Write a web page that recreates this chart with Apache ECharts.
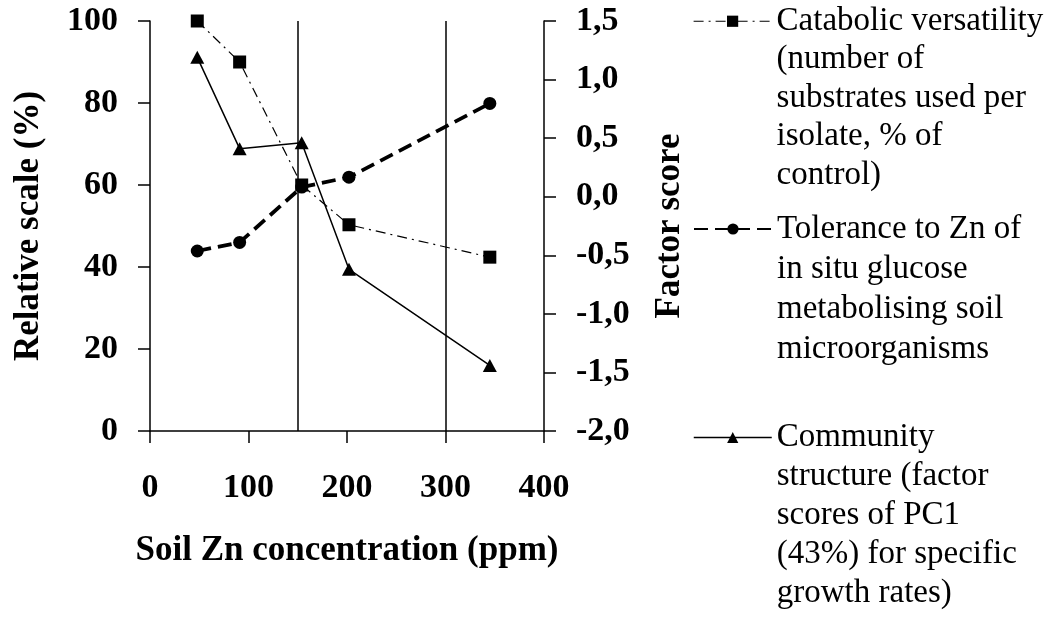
<!DOCTYPE html>
<html>
<head>
<meta charset="utf-8">
<script src="https://cdn.jsdelivr.net/npm/echarts@6/dist/echarts.min.js"></script>
<style>
html,body{margin:0;padding:0;background:#fff}
#chart{width:1055px;height:621px}
</style>
</head>
<body>
<div id="chart"></div>
<script>
var zn = [48, 91, 154, 202, 345];
var catabolic = [100, 90, 60, 50.3, 42.4];
var tolerance = [43.9, 46, 59.5, 61.9, 79.9];
var community = [1.19, 0.41, 0.46, -0.62, -1.44];
var xRange = [0, 400, 100];
var leftRange = [0, 100, 20];
var rightRange = [-2, 1.5, 0.5];
var cutoffs = [150, 300];
var names = ['Catabolic versatility', 'Tolerance to Zn', 'Community structure'];
var legendLines = [
     ['Catabolic versatility', '(number of', 'substrates used per', 'isolate, % of', 'control)'],
     ['Tolerance to Zn of', 'in situ glucose', 'metabolising soil', 'microorganisms'],
     ['Community', 'structure (factor', 'scores of PC1', '(43%) for specific', 'growth rates)']
];

var serif = '"Liberation Serif", "Times New Roman", serif';
var black = '#000';

function pairs(ys){
     return zn.map(function(x, i){ return [x, ys[i]]; });
}

// legend text is centred on the icon, so pad blank lines above to put the icon on line one
function legendItem(i, top, lh, lineStyle){
     var lines = legendLines[i];
     var pad = [];
     for (var k = 1; k < lines.length; k++) pad.push('');
     var text = pad.concat(lines).join('\n');
     return {
          left: 693, top: top, padding: 0, orient: 'vertical', selectedMode: false,
          itemWidth: 78, itemHeight: 14,
          data: [{name: names[i], lineStyle: lineStyle}],
          formatter: function(){ return text; },
          textStyle: {fontFamily: serif, fontSize: 33, lineHeight: lh, color: black}
     };
}

function yAxis(range, pos, name, gap, fmt){
     return {
          type: 'value', position: pos, min: range[0], max: range[1], interval: range[2],
          name: name, nameLocation: 'middle', nameGap: gap,
          nameTextStyle: {fontFamily: serif, fontWeight: 'bold', fontSize: 35, color: black},
          axisLine: {show: true, lineStyle: {color: black, width: 1.5}},
          axisTick: {show: true, length: 12, lineStyle: {color: black, width: 1.5}},
          axisLabel: {margin: 32, fontFamily: serif, fontWeight: 'bold', fontSize: 34, color: black, formatter: fmt},
          splitLine: {show: false}
     };
}

var myChart = echarts.init(document.getElementById('chart'));
myChart.setOption({
     animation: false,
     backgroundColor: '#fff',
     grid: {left: 150, right: 511, top: 21, bottom: 190},
     legend: [
          legendItem(0, -152, 38.5, {width: 1.2}),
          legendItem(1, 89, 40, {width: 2}),
          legendItem(2, 262, 39, {width: 1.5})
     ],
     xAxis: {
          type: 'value', min: xRange[0], max: xRange[1], interval: xRange[2],
          name: 'Soil Zn concentration (ppm)', nameLocation: 'middle', nameGap: 102,
          nameTextStyle: {fontFamily: serif, fontWeight: 'bold', fontSize: 35, color: black},
          axisLine: {lineStyle: {color: black, width: 1.5}},
          axisTick: {length: 12, lineStyle: {color: black, width: 1.5}},
          axisLabel: {margin: 40, fontFamily: serif, fontWeight: 'bold', fontSize: 34, color: black},
          splitLine: {show: false}
     },
     yAxis: [
          yAxis(leftRange, 'left', 'Relative scale (%)', 104),
          yAxis(rightRange, 'right', 'Factor score', 108, function(v){ return v.toFixed(1).replace('.', ','); })
     ],
     series: [
          {
               name: names[0], type: 'line', yAxisIndex: 0, data: pairs(catabolic),
               symbol: 'rect', symbolSize: 13,
               lineStyle: {color: black, width: 1.2, type: [10, 5, 2, 5]},
               itemStyle: {color: black},
               markLine: {
                    silent: true, symbol: 'none', label: {show: false},
                    lineStyle: {color: black, width: 1.5, type: 'solid'},
                    data: cutoffs.map(function(c){ return {xAxis: c}; })
               }
          },
          {
               name: names[1], type: 'line', yAxisIndex: 0, data: pairs(tolerance),
               symbol: 'circle', symbolSize: 13,
               lineStyle: {color: black, width: 3.8, type: [14, 7]},
               itemStyle: {color: black}
          },
          {
               name: names[2], type: 'line', yAxisIndex: 1, data: pairs(community),
               symbol: 'triangle', symbolSize: [14, 13],
               lineStyle: {color: black, width: 1.5, type: 'solid'},
               itemStyle: {color: black}
          }
     ]
});
</script>
</body>
</html>
